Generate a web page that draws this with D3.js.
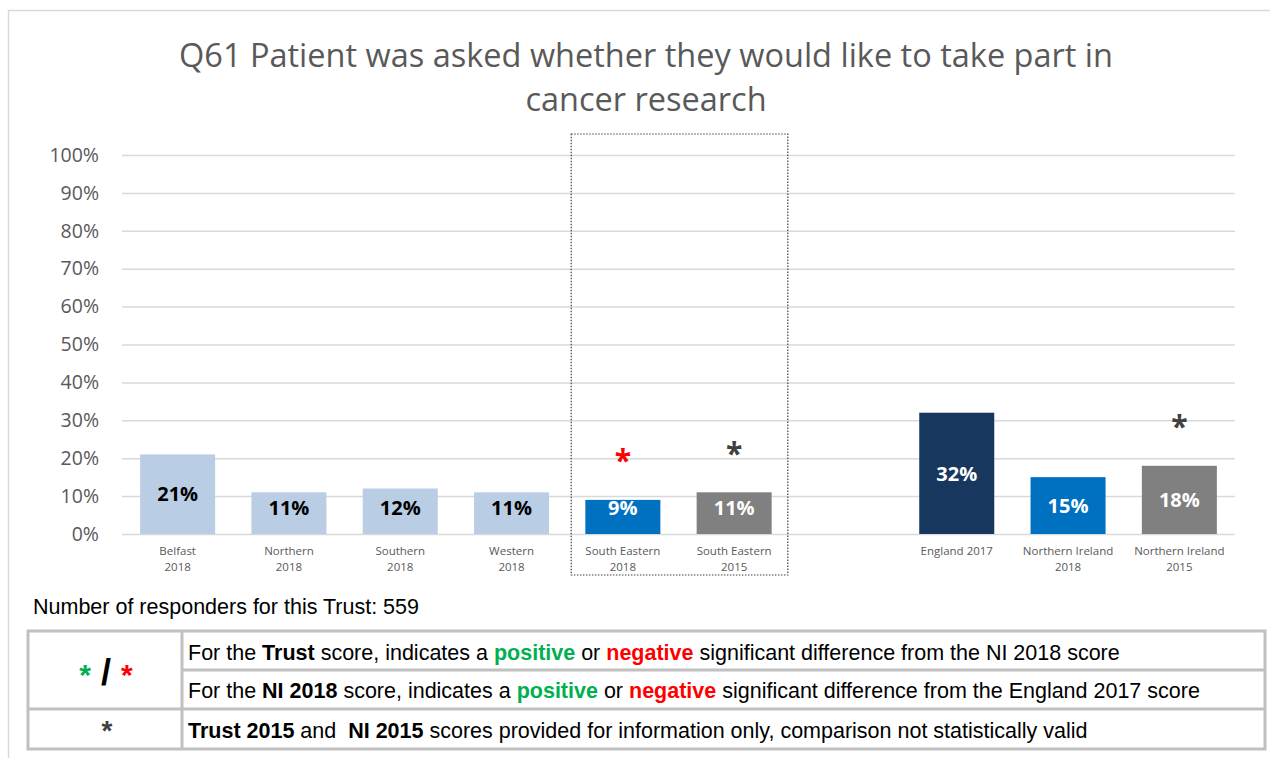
<!DOCTYPE html>
<html>
<head>
<meta charset="utf-8">
<script src="https://cdn.jsdelivr.net/npm/d3@7"></script>
<style>
  body { margin: 0; background: #fff; }
  svg { display: block; }
</style>
</head>
<body>
<svg id="chart" width="1270" height="758"></svg>
<script>
// ---- data ----
const titleLines = ["Q61 Patient was asked whether they would like to take part in", "cancer research"];
const categories = ["Belfast 2018", "Northern 2018", "Southern 2018", "Western 2018",
  "South Eastern 2018", "South Eastern 2015", "gap",
  "England 2017", "Northern Ireland 2018", "Northern Ireland 2015"];
const categoryLines = [["Belfast", "2018"], ["Northern", "2018"], ["Southern", "2018"], ["Western", "2018"],
  ["South Eastern", "2018"], ["South Eastern", "2015"], [],
  ["England 2017"], ["Northern Ireland", "2018"], ["Northern Ireland", "2015"]];
const values = [0.21, 0.11, 0.12, 0.11, 0.09, 0.11, null, 0.32, 0.15, 0.18];
const seriesKind = ["trust", "trust", "trust", "trust", "focus", "focus2015", null, "england", "ni", "ni2015"];
const markers = [null, null, null, null, "negative", "info", null, null, null, "info"];
const yTicks = [0, 0.1, 0.2, 0.3, 0.4, 0.5, 0.6, 0.7, 0.8, 0.9, 1];
const focusCategories = ["South Eastern 2018", "South Eastern 2015"];
const responders = 559;

// ---- styles ----
const fillFor = {
  trust: "#b9cde5", focus: "#0070c0", focus2015: "#808080",
  england: "#17375e", ni: "#0070c0", ni2015: "#808080"
};
const labelColorFor = {
  trust: "#000000", focus: "#ffffff", focus2015: "#ffffff",
  england: "#ffffff", ni: "#ffffff", ni2015: "#ffffff"
};
const markerColorFor = { negative: "#ff0000", positive: "#00b050", info: "#404040" };
const chartFont = "'Open Sans', 'Noto Sans', sans-serif";
const tableFont = "'Liberation Sans', Arial, sans-serif";

const svg = d3.select("#chart");

// chart area frame
svg.append("rect")
  .attr("x", 8.5).attr("y", 10.5).attr("width", 1300).attr("height", 800)
  .attr("fill", "none").attr("stroke", "#d9d9d9").attr("stroke-width", 1.5);

// title
svg.append("text")
  .attr("x", 646).attr("y", 67)
  .attr("text-anchor", "middle")
  .attr("font-family", chartFont).attr("font-size", 32.5).attr("fill", "#595959")
  .selectAll("tspan").data(titleLines).join("tspan")
  .attr("x", 646).attr("dy", (d, i) => i === 0 ? 0 : 44)
  .text(d => d);

// scales
const x = d3.scaleBand().domain(categories).range([122, 1235])
  .paddingInner(0.326).paddingOuter(0.163);
const y = d3.scaleLinear().domain([0, 1]).range([534, 155]);

// value axis with gridlines
const yAxis = d3.axisLeft(y)
  .tickValues(yTicks)
  .tickFormat(d3.format(".0%"))
  .tickSize(-(1235 - 122))
  .tickPadding(23);
const gy = svg.append("g").attr("transform", "translate(122,0)").call(yAxis);
gy.select(".domain").remove();
gy.selectAll(".tick line").attr("stroke", "#d9d9d9").attr("stroke-width", 1.5);
gy.selectAll(".tick text")
  .attr("font-family", chartFont).attr("font-size", 19.5).attr("fill", "#595959");

// category axis
const xAxis = d3.axisBottom(x).tickSize(0).tickFormat(() => "");
const gx = svg.append("g").attr("transform", `translate(0,${y(0)})`).call(xAxis);
gx.select(".domain").remove();
gx.selectAll(".tick text").remove();
gx.selectAll(".tick").each(function (d, i) {
  const t = d3.select(this).append("text")
    .attr("text-anchor", "middle")
    .attr("font-family", chartFont).attr("font-size", 11.5).attr("fill", "#595959");
  categoryLines[i].forEach((line, j) => {
    t.append("tspan").attr("x", 0).attr("y", 21 + j * 16).text(line);
  });
});

// bars
const barData = categories.map((c, i) => ({ c, v: values[i], kind: seriesKind[i], marker: markers[i] }))
  .filter(d => d.v !== null);

svg.append("g").selectAll("rect").data(barData).join("rect")
  .attr("x", d => x(d.c))
  .attr("y", d => y(d.v))
  .attr("width", x.bandwidth())
  .attr("height", d => y(0) - y(d.v))
  .attr("fill", d => fillFor[d.kind]);

// value labels
svg.append("g").selectAll("text").data(barData).join("text")
  .attr("x", d => x(d.c) + x.bandwidth() / 2)
  .attr("y", d => Math.min((y(d.v) + y(0)) / 2, y(0) - 26))
  .attr("dy", "0.36em")
  .attr("text-anchor", "middle")
  .attr("font-family", chartFont).attr("font-size", 20).attr("font-weight", 700)
  .attr("fill", d => labelColorFor[d.kind])
  .text(d => d3.format(".0%")(d.v));

// significance markers
svg.append("g").selectAll("text").data(barData.filter(d => d.marker)).join("text")
  .attr("x", d => x(d.c) + x.bandwidth() / 2)
  .attr("y", d => y(d.v) - 47)
  .attr("dy", "0.62em")
  .attr("text-anchor", "middle")
  .attr("font-family", chartFont).attr("font-size", 30).attr("font-weight", 700)
  .attr("fill", d => markerColorFor[d.marker])
  .text("*");

// dotted box around the trust's own results
const stepGap = (x.step() - x.bandwidth()) / 2;
const boxLeft = x(focusCategories[0]) - stepGap + 4;
const boxRight = x(focusCategories[1]) + x.bandwidth() + stepGap - 2;
svg.append("rect")
  .attr("x", boxLeft).attr("y", 134)
  .attr("width", boxRight - boxLeft).attr("height", 575 - 134)
  .attr("fill", "none").attr("stroke", "#404040")
  .attr("stroke-width", 1.2).attr("stroke-dasharray", "1.5,1.5");

// responders note
svg.append("text")
  .attr("x", 33).attr("y", 614)
  .attr("font-family", tableFont).attr("font-size", 21.5).attr("fill", "#000")
  .text(`Number of responders for this Trust: ${responders}`);

// key table
const tbl = svg.append("g");
const tL = 28, tR = 1265, tT = 631, tB = 749, colX = 182, rowA = 670, rowB = 709;
const lineStyle = sel => sel.attr("stroke", "#c0c0c0").attr("stroke-width", 3).attr("fill", "none");
tbl.append("rect").attr("x", tL).attr("y", tT).attr("width", tR - tL).attr("height", tB - tT).call(lineStyle);
tbl.append("line").attr("x1", colX).attr("x2", colX).attr("y1", tT).attr("y2", tB).call(lineStyle);
tbl.append("line").attr("x1", colX).attr("x2", tR).attr("y1", rowA).attr("y2", rowA).call(lineStyle);
tbl.append("line").attr("x1", tL).attr("x2", tR).attr("y1", rowB).attr("y2", rowB).call(lineStyle);

const keySymbols = tbl.append("text")
  .attr("x", 106).attr("y", 685).attr("text-anchor", "middle")
  .attr("font-family", tableFont).attr("font-weight", 700)
  .style("white-space", "pre");
keySymbols.append("tspan").attr("fill", "#00b050").attr("font-size", 30).text("*");
keySymbols.append("tspan").attr("fill", "#000").attr("font-size", 36).text(" / ");
keySymbols.append("tspan").attr("fill", "#ff0000").attr("font-size", 30).text("*");

tbl.append("text")
  .attr("x", 107).attr("y", 740).attr("text-anchor", "middle")
  .attr("font-family", tableFont).attr("font-weight", 700).attr("font-size", 28)
  .attr("fill", "#404040").text("*");

const keyRows = [
  { y: 660, parts: [
    ["For the ", false, "#000"], ["Trust", true, "#000"], [" score, indicates a ", false, "#000"],
    ["positive", true, "#00b050"], [" or ", false, "#000"], ["negative", true, "#ff0000"],
    [" significant difference from the NI 2018 score", false, "#000"]] },
  { y: 698, parts: [
    ["For the ", false, "#000"], ["NI 2018", true, "#000"], [" score, indicates a ", false, "#000"],
    ["positive", true, "#00b050"], [" or ", false, "#000"], ["negative", true, "#ff0000"],
    [" significant difference from the England 2017 score", false, "#000"]] },
  { y: 738, parts: [
    ["Trust 2015", true, "#000"], [" and \u00a0", false, "#000"], ["NI 2015", true, "#000"],
    [" scores provided for information only, comparison not statistically valid", false, "#000"]] }
];
keyRows.forEach(r => {
  const t = tbl.append("text").attr("x", 188).attr("y", r.y)
    .attr("font-family", tableFont).attr("font-size", 21.5)
    .style("white-space", "pre");
  r.parts.forEach(([s, bold, col]) => {
    t.append("tspan").attr("font-weight", bold ? 700 : 400).attr("fill", col).text(s);
  });
});
</script>
</body>
</html>
